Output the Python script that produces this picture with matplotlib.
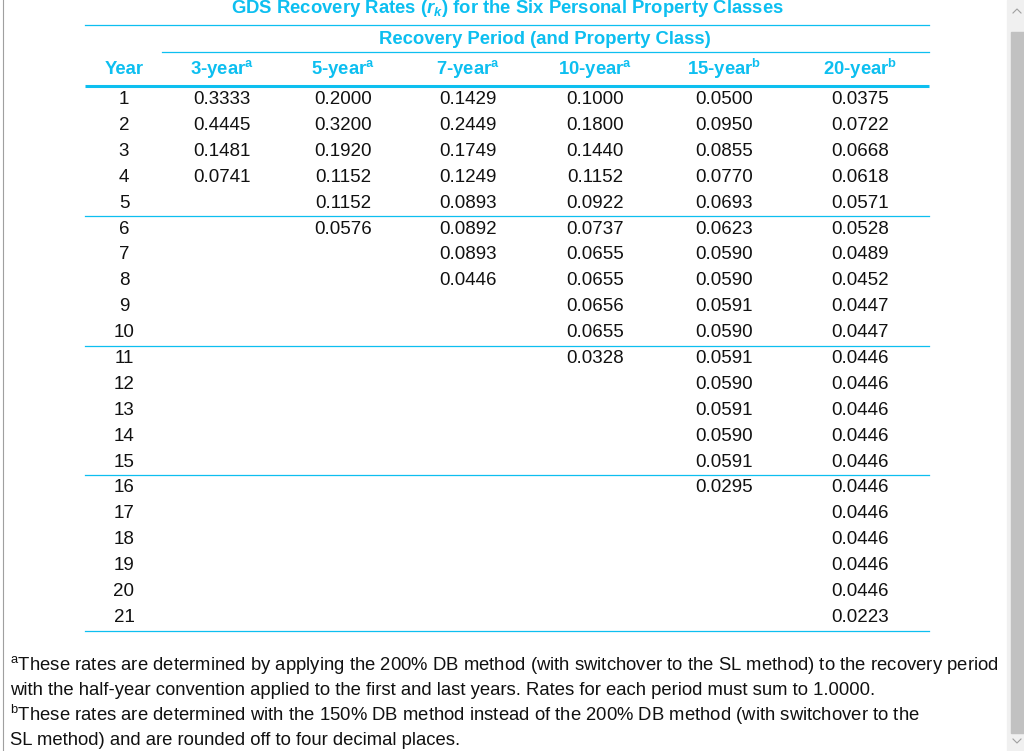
"""GDS recovery rates table"""

import matplotlib.pyplot as plt
from matplotlib.patches import Rectangle

plt.rcParams['font.family'] = ['Liberation Sans', 'DejaVu Sans']
plt.rcParams['mathtext.fontset'] = 'custom'
plt.rcParams['mathtext.it'] = 'Liberation Sans:bold:italic'
plt.rcParams['mathtext.rm'] = 'Liberation Sans:bold'
plt.rcParams['mathtext.sf'] = 'Liberation Sans'

# datos
years = list(range(1, 22))
headers = ['3-year', '5-year', '7-year', '10-year', '15-year', '20-year']
marks = ['a', 'a', 'a', 'a', 'b', 'b']
r3 = [0.3333, 0.4445, 0.1481, 0.0741]
r5 = [0.2000, 0.3200, 0.1920, 0.1152, 0.1152, 0.0576]
r7 = [0.1429, 0.2449, 0.1749, 0.1249, 0.0893, 0.0892, 0.0893, 0.0446]
r10 = [0.1000, 0.1800, 0.1440, 0.1152, 0.0922, 0.0737, 0.0655, 0.0655,
       0.0656, 0.0655, 0.0328]
r15 = [0.0500, 0.0950, 0.0855, 0.0770, 0.0693, 0.0623, 0.0590, 0.0590,
       0.0591, 0.0590, 0.0591, 0.0590, 0.0591, 0.0590, 0.0591, 0.0295]
r20 = [0.0375, 0.0722, 0.0668, 0.0618, 0.0571, 0.0528, 0.0489, 0.0452,
       0.0447, 0.0447, 0.0446, 0.0446, 0.0446, 0.0446, 0.0446, 0.0446,
       0.0446, 0.0446, 0.0446, 0.0446, 0.0223]
columns = [r3, r5, r7, r10, r15, r20]

title = 'GDS Recovery Rates ($r_k$) for the Six Personal Property Classes'
subtitle = 'Recovery Period (and Property Class)'
foot_a = ['$^{\\mathsf{a}}$These rates are determined by applying the 200% DB method (with switchover to the SL method) to the recovery period',
          'with the half-year convention applied to the first and last years. Rates for each period must sum to 1.0000.']
foot_b = ['$^{\\mathsf{b}}$These rates are determined with the 150% DB method instead of the 200% DB method (with switchover to the',
          'SL method) and are rounded off to four decimal places.']

cyan = '#0dbff0'
fs = 13.5      # cuerpo
fs_h = 13.3    # encabezados
fs_f = 13.3    # notas

fig = plt.figure(figsize=(10.24, 7.51), dpi=100)
ax = fig.add_axes([0, 0, 1, 1])
ax.set_xlim(0, 1024)
ax.set_ylim(751, 0)
ax.axis('off')

# posiciones de columnas
x_year = 124
x_cols = [222, 343, 468, 595, 724, 860]
y0 = 99.5
dy = 25.9
x_left, x_right = 85, 929

ax.text(507, 8.5, title, color=cyan, fontsize=fs_h, fontweight='bold', ha='center', va='center')
ax.plot([x_left, x_right], [25, 25], color=cyan, lw=0.9)
ax.text(545, 40, subtitle, color=cyan, fontsize=fs_h, fontweight='bold', ha='center', va='center')
ax.plot([162, x_right], [52, 52], color=cyan, lw=0.9)

ax.text(x_year, 69, 'Year', color=cyan, fontsize=fs_h, fontweight='bold', ha='center', va='center')
for x, h, m in zip(x_cols, headers, marks):
    ax.text(x, 69, h + '$^{\\mathrm{' + m + '}}$', color=cyan, fontsize=fs_h,
            fontweight='bold', ha='center', va='center')
ax.plot([x_left, x_right], [85.5, 85.5], color=cyan, lw=2.2, solid_capstyle='butt')

for i, yr in enumerate(years):
    y = y0 + i * dy
    ax.text(x_year, y, str(yr), fontsize=fs, ha='center', va='center', color='#111111')
    for x, col in zip(x_cols, columns):
        if i < len(col):
            ax.text(x, y, '%.4f' % col[i], fontsize=fs, ha='center', va='center', color='#111111')

# separadores cada 5 filas
for k in [5, 10, 15]:
    y = y0 + (k - 0.5) * dy
    ax.plot([x_left, x_right], [y, y], color=cyan, lw=0.9)
ax.plot([x_left, x_right], [631, 631], color=cyan, lw=0.9)

# notas
for j, line in enumerate(foot_a + foot_b):
    ax.text(10, 665 + j * 25.2, line, fontsize=fs_f, ha='left', va='center', color='#111111')

# borde y barra de desplazamiento
ax.plot([3, 3], [0, 751], color='#a0a0a0', lw=0.8)
ax.add_patch(Rectangle((1007, 0), 17, 751, color='#f0f0f0'))
ax.add_patch(Rectangle((1011, 32), 13, 701, color='#c1c1c1'))
ax.plot([1013, 1017, 1021], [13, 9, 13], color='#a0a0a0', lw=0.8)
ax.plot([1013, 1017, 1021], [739, 743, 739], color='#a0a0a0', lw=0.8)

fig.savefig('out.png', dpi=100)
